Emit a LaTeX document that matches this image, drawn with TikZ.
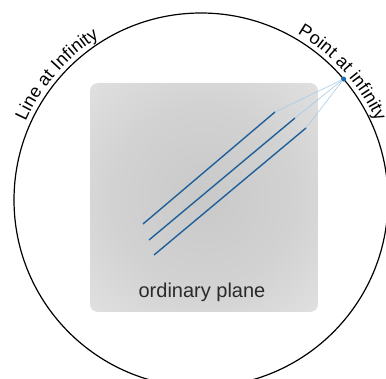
\documentclass[tikz,border=0pt]{standalone}
\usepackage{fontspec}
\setmainfont{Liberation Sans}
\usetikzlibrary{positioning, calc, decorations.text}
\definecolor{lineBlue}{HTML}{1F5F9C}
\definecolor{rayBlue}{HTML}{A8CBE6}
\definecolor{dotBlue}{HTML}{1E6AAE}
\definecolor{textGray}{HTML}{2A2A2A}
\definecolor{planeInner}{HTML}{C9C9C9}
\definecolor{planeMid}{HTML}{D2D2D2}
\definecolor{planeEdge}{HTML}{EDEDED}
\definecolor{planeOuter}{HTML}{FAFAFA}
\pgfdeclareradialshading{planeshade}{\pgfpoint{0bp}{0bp}}{%
  color(0bp)=(planeInner); color(20bp)=(planeMid); color(50bp)=(planeEdge); color(72bp)=(planeOuter)}

\begin{document}
\begin{tikzpicture}[
    x=1pt, y=1pt,
    parallel/.style={draw=lineBlue, line width=1.4pt},
    ray/.style={draw=rayBlue, line width=0.6pt},
    arclabel/.style={decorate, decoration={text along path, text align=center, raise=5pt}}
]
    \useasboundingbox (0,0) rectangle (386,378);
    \coordinate (O) at (201,178);

    % the ordinary plane
    \shade[shading=planeshade, rounded corners=8pt] (90,66) rectangle (318,295);
    \node[font=\fontsize{20}{23}\selectfont, text=textGray] (plane) at (202,86) {ordinary plane};

    % line at infinity
    \draw[line width=1.2pt] (O) circle[radius=187];
    \path[arclabel, decoration={text={|\fontsize{18}{21}\selectfont|Line at Infinity}}]
        (O) ++(175:187) arc[start angle=175, end angle=103, radius=187];
    \path[arclabel, decoration={text={|\fontsize{18}{21}\selectfont|Point at infinity}}]
        (O) ++(78:187) arc[start angle=78, end angle=6, radius=187];

    % parallel lines meeting at the point at infinity
    \node[circle, fill=dotBlue, inner sep=0pt, minimum size=5pt] (P) at ($(O)+(40.3:187)$) {};
    \coordinate (a1) at (143,154);
    \coordinate (b1) at (275,266);
    \coordinate (a2) at (149,138);
    \coordinate (b2) at (295,260);
    \coordinate (a3) at (154,123);
    \coordinate (b3) at (306,250);
    \foreach \i in {1,2,3} {
        \draw[parallel] (a\i) -- (b\i);
        \draw[ray] (b\i) -- (P);
    }
\end{tikzpicture}
\end{document}
